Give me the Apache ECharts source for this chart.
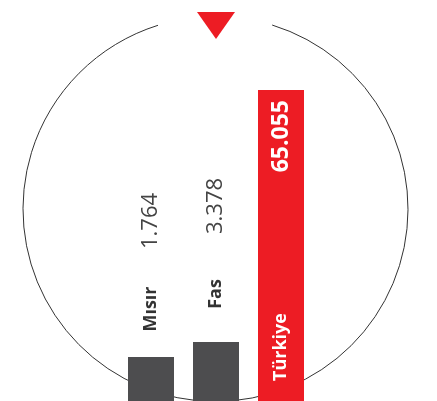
<!DOCTYPE html>
<html>
<head>
<meta charset="utf-8">
<script src="https://cdn.jsdelivr.net/npm/echarts@6/dist/echarts.min.js"></script>
<style>
  html, body { margin: 0; padding: 0; background: #fff; }
  #myChart { width: 437px; height: 401px; }
</style>
</head>
<body>
<div id="myChart"></div>
<script>
var categories = ['Mısır', 'Fas', 'Türkiye'];
var values = [1764, 3378, 65055];
var highlight = 'Türkiye';

var FONT = '"Open Sans", "Noto Sans", sans-serif';

function fmt(v) {
    return String(v).replace(/\B(?=(\d{3})+(?!\d))/g, '.');
}

// value labels (and bar colours)
var valueData = values.map(function (v, i) {
    var item = { value: v };
    if (categories[i] === highlight) {
        item.itemStyle = { color: '#ed1c24' };
        item.label = {
            position: 'insideTop', distance: 10, align: 'right',
            color: '#fff', fontWeight: 'bold', fontSize: 23
        };
    }
    return item;
});

// category name labels, drawn on a transparent copy of the bars
var nameData = values.map(function (v, i) {
    var item = { value: v };
    if (categories[i] === highlight) {
        item.label = {
            position: 'insideBottom', distance: 20, align: 'left', color: '#fff'
        };
    }
    return item;
});

var option = {
    animation: false,
    grid: { left: 118.5, right: 123.5, top: 90, bottom: 0 },
    xAxis: {
        type: 'category',
        data: categories,
        show: false
    },
    yAxis: {
        type: 'value',
        min: -2970,
        max: 65055,
        startValue: -2970,
        show: false,
        splitLine: { show: false },
        breaks: [{ start: 10000, end: 44563, gap: 0 }],
        breakArea: { show: false }
    },
    graphic: [
        {
            type: 'arc',
            z: 0,
            shape: { cx: 215.5, cy: 209, r: 192.5, startAngle: -1.272, endAngle: 4.409, clockwise: true },
            style: { stroke: '#333', lineWidth: 1, fill: null }
        },
        {
            type: 'polygon',
            z: 0,
            shape: { points: [[197, 12], [235, 12], [216, 39]] },
            style: { fill: '#ed1c24' }
        }
    ],
    series: [
        {
            type: 'bar',
            barWidth: 46,
            z: 2,
            itemStyle: { color: '#4d4d4f' },
            label: {
                show: true,
                position: 'top',
                distance: 136,
                rotate: 90,
                align: 'center',
                verticalAlign: 'middle',
                fontFamily: FONT,
                fontSize: 22,
                color: '#444',
                formatter: function (p) { return fmt(p.value); }
            },
            data: valueData
        },
        {
            type: 'bar',
            barWidth: 46,
            barGap: '-100%',
            z: 3,
            silent: true,
            itemStyle: { color: 'rgba(0,0,0,0)' },
            label: {
                show: true,
                position: 'top',
                distance: 48,
                rotate: 90,
                align: 'center',
                verticalAlign: 'middle',
                fontFamily: FONT,
                fontSize: 18,
                fontWeight: 'bold',
                color: '#333',
                formatter: function (p) { return p.name; }
            },
            data: nameData
        }
    ]
};

var myChart = echarts.init(document.getElementById('myChart'));
myChart.setOption(option);
</script>
</body>
</html>
